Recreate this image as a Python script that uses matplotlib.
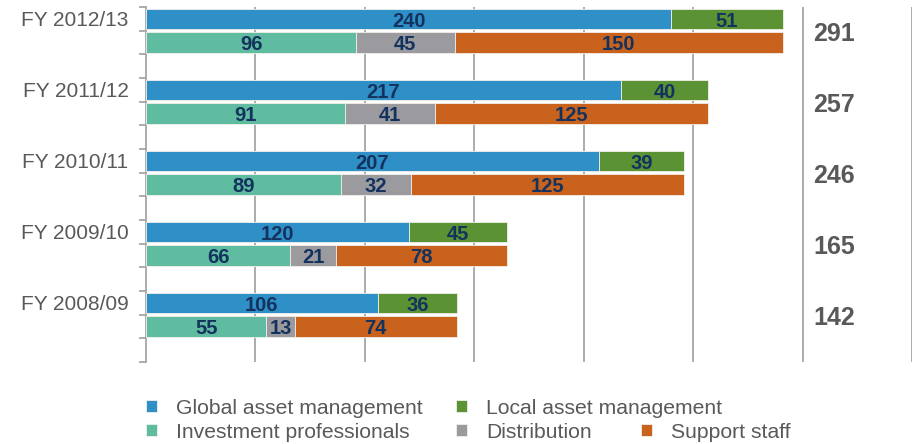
import numpy as np
import matplotlib
matplotlib.use("Agg")
import matplotlib.pyplot as plt

plt.rcParams["font.family"] = ["Liberation Sans", "DejaVu Sans"]

years = ["FY 2012/13", "FY 2011/12", "FY 2010/11", "FY 2009/10", "FY 2008/09"]
global_am = [240, 217, 207, 120, 106]
local_am = [51, 40, 39, 45, 36]
invest_prof = [96, 91, 89, 66, 55]
distribution = [45, 41, 32, 21, 13]
support = [150, 125, 125, 78, 74]
totals = [291, 257, 246, 165, 142]

c_global = "#2F8FC7"
c_local = "#5B9334"
c_invest = "#5FBCA1"
c_dist = "#9B9A9F"
c_support = "#C8621C"
label_col = "#14325E"
grey_txt = "#595959"
line_col = "#A6A6A6"

fig = plt.figure(figsize=(9.13, 4.44), dpi=100)
ax = fig.add_axes([146 / 913, 1 - 362 / 444, 766 / 913, 355 / 444])

n = len(years)
top_pos = np.arange(n) * 3 + 0.5
bot_pos = np.arange(n) * 3 + 1.5
h = 0.86

def stacked(pos, series, colors):
    left = np.zeros(n)
    conts = []
    for vals, col in zip(series, colors):
        vals = np.array(vals, dtype=float)
        bc = ax.barh(pos, vals, left=left, height=h, color=col,
                     edgecolor="#F3EFEA", linewidth=0.6, zorder=3)
        for p, l, v in zip(pos, left, vals):
            ax.text(l + v / 2, p + 0.02, f"{int(v)}", ha="center",
                    va="center_baseline", fontsize=14.5, fontweight="bold",
                    color=label_col, zorder=4)
        left += vals
        conts.append(bc)
    return conts

top_bars = stacked(top_pos, [global_am, local_am], [c_global, c_local])
bot_bars = stacked(bot_pos, [invest_prof, distribution, support],
                   [c_invest, c_dist, c_support])

for i, t in enumerate(totals):
    ax.text(305, (top_pos[i] + bot_pos[i]) / 2 + 0.05, str(t), ha="left",
            va="center_baseline", fontsize=18, fontweight="bold",
            color=grey_txt, zorder=4)

ax.set_xlim(0, 350)
ax.set_ylim(3 * n, 0)
ax.set_xticks(np.arange(50, 351, 50))
ax.xaxis.grid(True, color=line_col, linewidth=1.3, zorder=1)
ax.tick_params(axis="x", length=0, labelbottom=False)

ax.set_yticks(np.arange(0, 3 * n + 1))
ax.set_yticklabels([])
ax.tick_params(axis="y", direction="out", length=5, width=1.3, color=line_col)
for i, y in enumerate(years):
    ax.text(-8, top_pos[i], y, ha="right", va="center_baseline",
            fontsize=15, color=grey_txt)

for s in ["top", "right", "bottom"]:
    ax.spines[s].set_visible(False)
ax.spines["left"].set_color(line_col)
ax.spines["left"].set_linewidth(1.3)

# legend entries placed individually to mimic the two-row layout
entries = [
    (top_bars[0], "Global asset management", 146, 408),
    (top_bars[1], "Local asset management", 456, 408),
    (bot_bars[0], "Investment professionals", 146, 432),
    (bot_bars[1], "Distribution", 456, 432),
    (bot_bars[2], "Support staff", 641, 432),
]
for handle, label, x, y in entries:
    fig.legend([handle], [label], loc="center left",
               bbox_to_anchor=(x / 913, 1 - y / 444), frameon=False,
               fontsize=15.2, handlelength=0.53, handleheight=0.53,
               handletextpad=0.9, borderpad=0, borderaxespad=0,
               labelcolor=grey_txt)

fig.savefig("out.png", dpi=100)
